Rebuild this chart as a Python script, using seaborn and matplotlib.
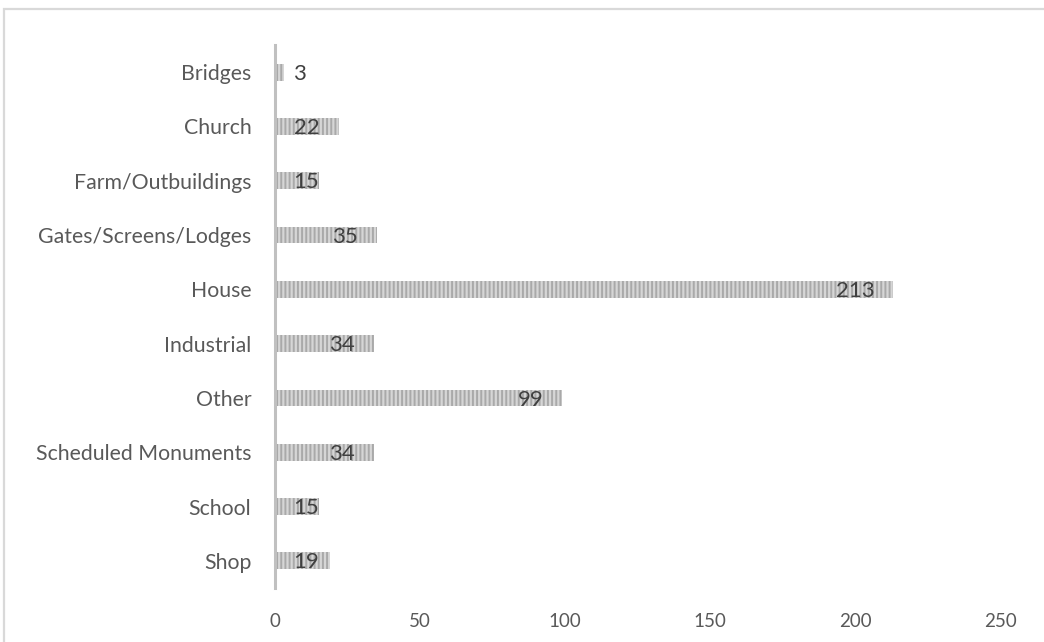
import matplotlib
matplotlib.use("Agg")
import matplotlib.pyplot as plt
import seaborn as sns
import pandas as pd
from matplotlib.patches import Rectangle

categories = ["Bridges", "Church", "Farm/Outbuildings", "Gates/Screens/Lodges", "House",
              "Industrial", "Other", "Scheduled Monuments", "School", "Shop"]
values = [3, 22, 15, 35, 213, 34, 99, 34, 15, 19]
x_ticks = [0, 50, 100, 150, 200, 250]

sns.set_theme(style="white")
plt.rcParams['font.family'] = ['Lato', 'DejaVu Sans']
plt.rcParams['hatch.linewidth'] = 1.4

W, H = 1044, 642
ax_top, ax_bottom = 45.0, 588.0
fig = plt.figure(figsize=(W / 100, H / 100), dpi=100)
ax = fig.add_axes([275 / W, (H - ax_bottom) / H, (1000 - 275) / W, (ax_bottom - ax_top) / H])

df = pd.DataFrame({"category": categories, "value": values})
sns.barplot(data=df, x="value", y="category", orient="h", width=0.31,
            color="#d6d6d6", ax=ax)
for p in ax.patches:
    p.set_hatch("||||")
    p.set_edgecolor("#a9a9a9")
    p.set_linewidth(0)

ax.set_xlim(0, 250)
ax.set_ylim(len(categories) - 0.5, -0.5)
ax.set_xticks(x_ticks)
ax.set_xlabel("")
ax.set_ylabel("")
text_color = "#595959"
ax.tick_params(axis="x", length=0, pad=18, labelsize=13.5, labelcolor=text_color)
ax.tick_params(axis="y", length=0, pad=17, labelsize=15.3, labelcolor=text_color)
for s in ["top", "right", "bottom"]:
    ax.spines[s].set_visible(False)
ax.spines["left"].set_color("#c0c0c0")
ax.spines["left"].set_linewidth(2.2)
ax.grid(False)

# data labels: inside end, clamped near the axis
px_per_unit = (1000 - 275) / 250
digit_px = 12.3
for i, v in enumerate(values):
    width_units = len(str(v)) * digit_px / px_per_unit
    right = v - 20 / px_per_unit
    left = max(right - width_units, 18 / px_per_unit)
    ax.text(left, i + 0.03, str(v), ha="left", va="center", fontsize=16, color="#404040")

# chart area border (partially cropped in reference)
fig.patches.append(Rectangle((4 / W, -0.5), 2, (H - 9) / H + 0.5, transform=fig.transFigure,
                             fill=False, edgecolor="#d9d9d9", linewidth=1.6))

fig.savefig("out.png", dpi=100)
